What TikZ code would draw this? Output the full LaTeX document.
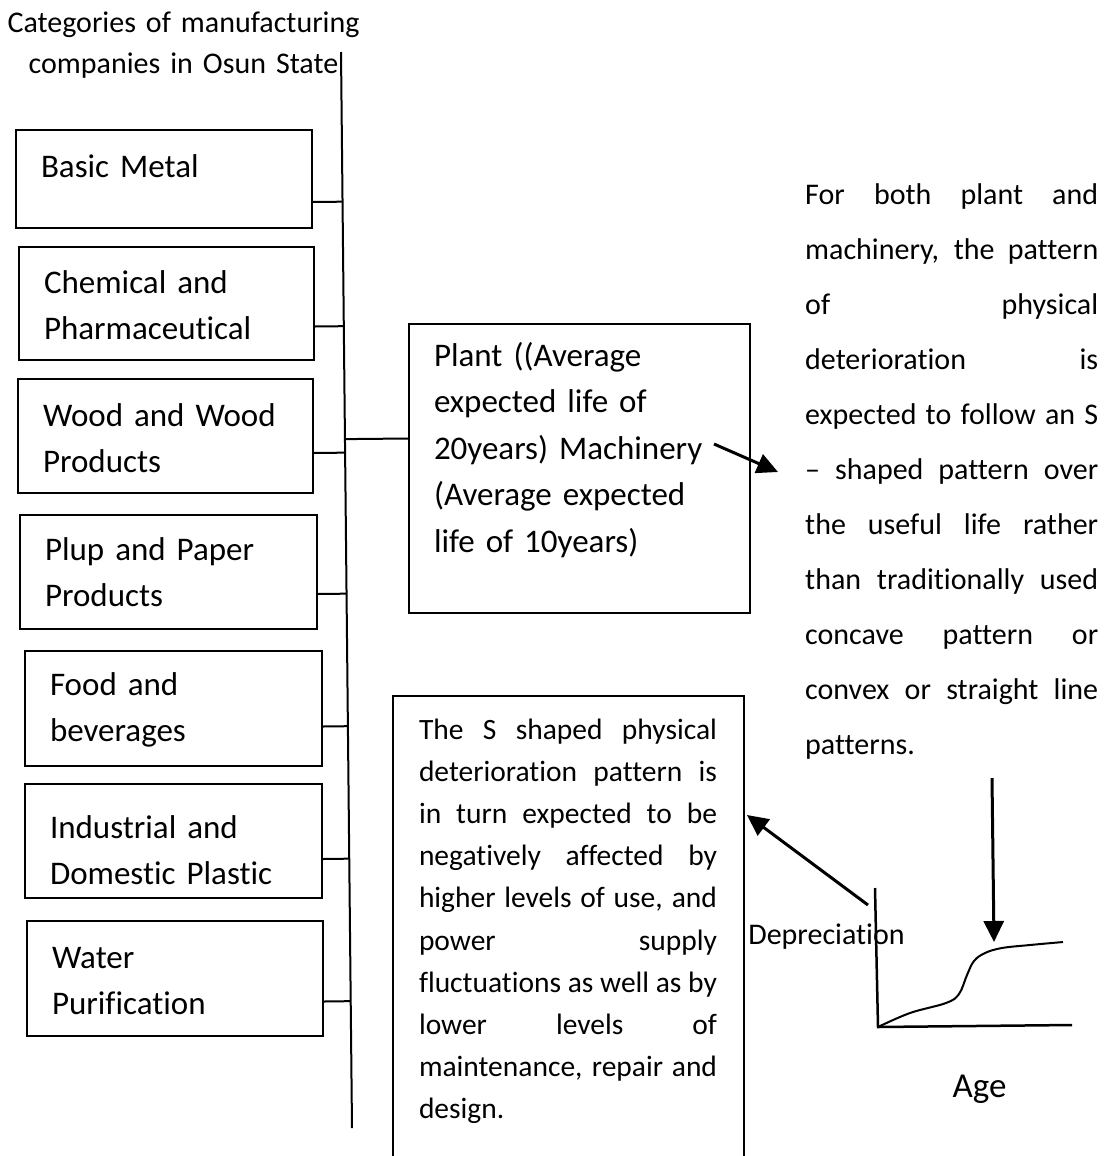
\documentclass[tikz,border=0pt]{standalone}
\usepackage{fontspec}
\setmainfont{Carlito}[Ligatures={TeX,NoCommon,NoContextual},RawFeature=-calt]
\usetikzlibrary{arrows.meta,calc}
\newlength{\jw}
\setlength{\jw}{293pt}
\newcommand{\jl}[1]{\leavevmode\hbox to\jw{\spaceskip=0.226em plus 1fil\relax\xspaceskip=\spaceskip #1}}

\begin{document}
\begin{tikzpicture}[x=1pt,y=-1pt,
  ln/.style={line width=2pt},
  cat/.style={draw,line width=2pt,anchor=north west,inner xsep=25pt,inner ysep=0pt,
    align=left,font=\fontsize{33}{46.5}\selectfont},
  para/.style={inner sep=0pt,anchor=base west,align=left,font=\fontsize{30}{55}\selectfont},
  arr/.style={line width=3pt,-{Triangle[length=21pt,width=20pt]}}]
\useasboundingbox (0,0) rectangle (1112,1156);

% title and the categories
\node[inner sep=0pt,anchor=base,text width=360pt,align=center,
  font=\fontsize{30}{41}\selectfont] (title) at (183.5,33)
  {Categories of manufacturing\\companies in Osun State};
\node[cat,text width=246pt,text height=47pt,text depth=51pt] (b1) at (15,129) {Basic Metal};
\node[cat,text width=245pt,text height=46pt,text depth=67pt] (b2) at (18,246) {Chemical and\\Pharmaceutical};
\node[cat,text width=245pt,text height=47pt,text depth=67pt] (b3) at (17,378) {Wood and Wood\\Products};
\node[cat,text width=247pt,text height=45pt,text depth=69pt] (b4) at (19,514) {Plup and Paper\\Products};
\node[cat,text width=247pt,text height=44pt,text depth=71pt] (b5) at (24,650) {Food and\\beverages};
\node[cat,text width=247pt,text height=54pt,text depth=60pt] (b6) at (24,783) {Industrial and\\Domestic Plastic};
\node[cat,text width=246pt,text height=47pt,text depth=68pt] (b7) at (26,920) {Water\\Purification};

% trunk
\coordinate (ttop) at (341,52);
\coordinate (tbot) at (352,1128);
\draw[ln] (ttop) -- (tbot);
\foreach \b/\d in {b1/23,b2/23,b3/17,b4/22,b5/18,b6/18,b7/23}{
  \coordinate (j\b) at ([yshift=-\d pt]\b.east);
  \draw[ln] (j\b) -- ($(ttop)!(j\b)!(tbot)$);
}

% plant and machinery
\node[cat,text width=291pt,text height=42pt,text depth=247pt] (plant) at (408,323)
  {Plant ((Average\\expected life of\\20years) Machinery\\(Average expected\\life of 10years)};
\coordinate (jplant) at ([yshift=30pt]plant.west);
\draw[ln] ($(ttop)!(jplant)!(tbot)$) -- (jplant);

\node[para,text width=293pt] (desc) at (805,204)
  {\jl{For both plant and}\\
   \jl{machinery, the pattern}\\
   \jl{of physical}\\
   \jl{deterioration is}\\
   \jl{expected to follow an S}\\
   \jl{-- shaped pattern over}\\
   \jl{the useful life rather}\\
   \jl{than traditionally used}\\
   \jl{concave pattern or}\\
   \jl{convex or straight line}\\
   patterns.};

% S shaped box, open at the bottom
\node[cat,draw=none,font=\fontsize{29.5}{42.2}\selectfont,inner xsep=25.5pt,
  text width=298pt,text height=42pt,text depth=418pt] (sbox) at (392.5,696)
  {\setlength{\jw}{298pt}%
   \jl{The S shaped physical}\\
   \jl{deterioration pattern is}\\
   \jl{in turn expected to be}\\
   \jl{negatively affected by}\\
   \jl{higher levels of use, and}\\
   \jl{power supply}\\
   \jl{fluctuations as well as by}\\
   \jl{lower levels of}\\
   \jl{maintenance, repair and}\\
   design.};
\draw[ln] (sbox.south west) -- (sbox.north west) -- (sbox.north east) -- (sbox.south east);

% depreciation curve
\coordinate (orig) at (878,1027);
\coordinate (ytip) at (875,888);
\coordinate (xtip) at (1072,1025);
\draw[line width=2.5pt] (ytip) -- (orig) -- (xtip);
\draw[ln] plot[smooth,tension=0.6] coordinates {(878,1027) (910,1013) (946,1003) (959,994)
  (967,975) (974,961) (985,953) (1002,948) (1030,945) (1063,942)};
\node[inner sep=0pt,anchor=base,font=\fontsize{30}{36}\selectfont] (dep) at (826.5,944) {Depreciation};
\node[inner sep=0pt,anchor=base,font=\fontsize{35}{40}\selectfont] (age) at (979.5,1097) {Age};

% arrows
\coordinate (a1s) at ([shift={(-37,-24.5)}]plant.east);
\coordinate (a1e) at (778,472);
\coordinate (a2s) at (868,905);
\coordinate (a2e) at (747,815);
\coordinate (a3s) at (992,778);
\coordinate (a3e) at (994,942);
\draw[arr] (a1s) -- (a1e);
\draw[arr] (a2s) -- (a2e);
\draw[arr] (a3s) -- (a3e);
\end{tikzpicture}
\end{document}
